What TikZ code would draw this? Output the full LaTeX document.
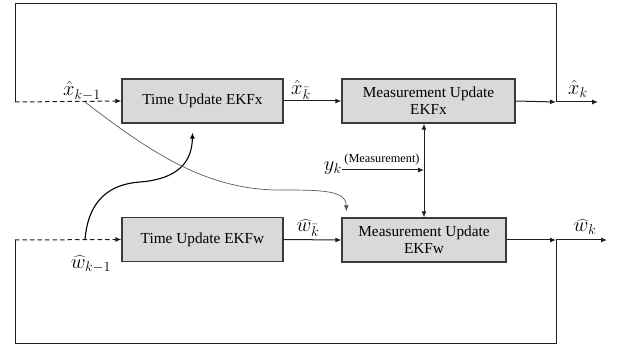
\documentclass[tikz,border=0pt]{standalone}
\usepackage{graphicx}
\usepackage{fontspec}
\setmainfont{Liberation Serif}
\usetikzlibrary{arrows.meta,calc}
\definecolor{boxfill}{HTML}{D9D9D9}
\definecolor{boxline}{HTML}{3A3A3A}
\definecolor{wire}{HTML}{1E1E1E}
\definecolor{thinwire}{HTML}{5A5A5A}
\newcommand{\biglab}[1]{\scalebox{1.18}{\fontsize{17.28}{20}\selectfont$#1$}}
\begin{document}
\begin{tikzpicture}[x=1pt,y=-1pt,
  blockbox/.style={draw=boxline,fill=boxfill,line width=1.3pt,minimum height=44pt,
    inner sep=2pt,align=center,font=\fontsize{15.3}{17}\selectfont},
  wireline/.style={draw=wire,line width=1pt},
  tip/.style={-{Latex[length=6pt,width=5pt]}},
  dashwire/.style={wireline,dash pattern=on 4.5pt off 3pt},
  lab/.style={inner sep=0pt}
]
\useasboundingbox (0,0) rectangle (618,347);

% filter blocks
\node[blockbox,minimum width=161pt] (tux) at (202.5,101) {Time Update EKFx};
\node[blockbox,minimum width=173pt] (mux) at (428.5,101) {Measurement Update\\EKFx};
\node[blockbox,minimum width=161pt] (tuw) at (202.5,239.5) {Time Update EKFw};
\node[blockbox,minimum width=164pt] (muw) at (424,240) {Measurement Update\\EKFw};

% junctions and loop corners
\coordinate (jx) at (556,102);
\coordinate (jw) at (556,240);
\coordinate (xout) at (598,102);
\coordinate (wout) at (607,240);
\coordinate (tl) at (15,4);
\coordinate (xl) at (15,102);
\coordinate (bl) at (15,343);
\coordinate (wl) at (15,240);
\coordinate (xsplit) at (85,102);
\coordinate (wsplit) at (85,240);
\coordinate (ym) at (424,170);

% labels
\node[lab] at (82,91) {\biglab{\hat{x}_{k-1}}};
\node[lab] at (301,90) {\biglab{\hat{x}_{\bar{k}}}};
\node[lab] at (578,89) {\biglab{\hat{x}_{k}}};
\node[lab] at (91,264) {\biglab{\widehat{w}_{k-1}}};
\node[lab] at (308,228) {\biglab{\widehat{w}_{\bar{k}}}};
\node[lab] at (585,227) {\biglab{\widehat{w}_{k}}};
\node[lab,anchor=east] (yk) at (342,168) {\biglab{y_{k}}};
\node[inner sep=0pt,font=\fontsize{12.3}{14}\selectfont] (meas) at (382,160) {(Measurement)};

% upper chain
\draw[wireline] (jx) |- (tl) -- (xl);
\draw[dashwire,tip] (xl) -- (tux.west);
\draw[wireline,tip] (tux.east) -- (mux.west);
\draw[wireline,tip] (mux.east) -- (jx);
\draw[wireline,tip] (jx) -- (xout);

% lower chain
\draw[wireline] (jw) |- (bl) -- (wl);
\draw[dashwire,tip] (wl) -- (tuw.west);
\draw[wireline,tip] (tuw.east) -- (muw.west);
\draw[wireline,tip] (muw.east) -- (jw);
\draw[wireline,tip] (jw) -- (wout);

% measurement feed
\draw[wireline,tip] (yk.east |- ym) -- (ym);
\draw[wireline,{Latex[length=6pt,width=5pt]}-{Latex[length=6pt,width=5pt]}]
  (ym |- mux.south) -- (ym |- muw.north);

% cross couplings
\draw[draw=black,line width=1.1pt,tip] (wsplit)
  .. controls (88,200) and (110,184) .. (140,182)
  .. controls (178,179) and (192,162) .. ($(tux.south)+(-10,9)$);
\draw[draw=thinwire,line width=0.7pt,tip] (xsplit)
  .. controls (150,152) and (205,189) .. (277,190)
  .. controls (322,190) and (346,190) .. ($(muw.north west)+(5,-6)$);
\end{tikzpicture}
\end{document}
